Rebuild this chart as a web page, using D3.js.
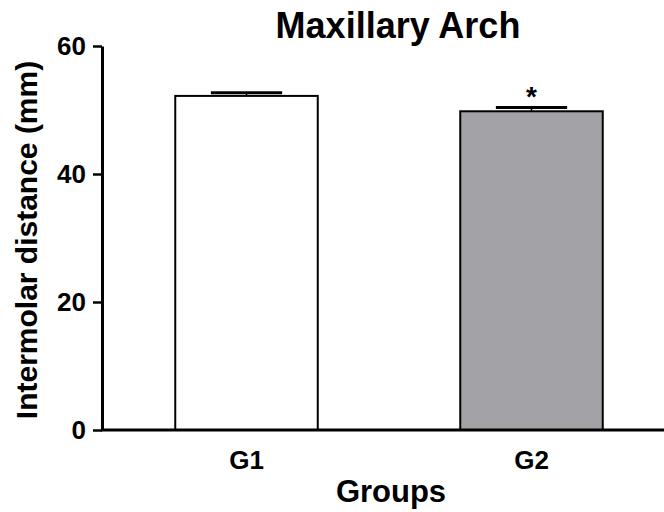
<!DOCTYPE html>
<html>
<head>
<meta charset="utf-8">
<script src="https://cdn.jsdelivr.net/npm/d3@7/dist/d3.min.js"></script>
<style>
  body { margin: 0; background: #fff; }
  text { font-family: "Liberation Sans", Arial, sans-serif; font-weight: bold; fill: #000; }
</style>
</head>
<body>
<div id="chart"></div>
<script>
var groups = ["G1", "G2"];
var means = [52.2, 49.8];
var errors = [0.5, 0.6];
var significant = [false, true];
var yTicks = [0, 20, 40, 60];
var barColors = ["#ffffff", "#a3a2a7"];

var width = 664, height = 512;

var svg = d3.select("#chart").append("svg")
    .attr("width", width)
    .attr("height", height);

var x = d3.scaleBand()
    .domain(groups)
    .range([104, 674])
    .paddingInner(0.5)
    .paddingOuter(0.25);

var y = d3.scaleLinear()
    .domain([0, 60])
    .range([430, 46]);

// title
svg.append("text")
    .attr("x", 398)
    .attr("y", 38)
    .attr("text-anchor", "middle")
    .style("font-size", "36px")
    .text("Maxillary Arch");

// bars
var data = groups.map(function(g, i) {
    return {group: g, mean: means[i], err: errors[i], sig: significant[i], color: barColors[i]};
});

var bar = svg.selectAll(".bar").data(data).enter().append("g")
    .attr("class", "bar");

bar.append("rect")
    .attr("x", function(d) { return x(d.group); })
    .attr("y", function(d) { return y(d.mean); })
    .attr("width", x.bandwidth())
    .attr("height", function(d) { return y(0) - y(d.mean); })
    .attr("fill", function(d) { return d.color; })
    .attr("stroke", "#000")
    .attr("stroke-width", 2);

// error bars (upper only)
bar.append("line")
    .attr("x1", function(d) { return x(d.group) + x.bandwidth() / 2; })
    .attr("x2", function(d) { return x(d.group) + x.bandwidth() / 2; })
    .attr("y1", function(d) { return y(d.mean); })
    .attr("y2", function(d) { return y(d.mean + d.err); })
    .attr("stroke", "#000")
    .attr("stroke-width", 1.5);

bar.append("line")
    .attr("x1", function(d) { return x(d.group) + x.bandwidth() * 0.25; })
    .attr("x2", function(d) { return x(d.group) + x.bandwidth() * 0.75; })
    .attr("y1", function(d) { return y(d.mean + d.err); })
    .attr("y2", function(d) { return y(d.mean + d.err); })
    .attr("stroke", "#000")
    .attr("stroke-width", 3);

bar.filter(function(d) { return d.sig; }).append("text")
    .attr("x", function(d) { return x(d.group) + x.bandwidth() / 2; })
    .attr("y", function(d) { return y(d.mean + d.err) - 1; })
    .attr("text-anchor", "middle")
    .style("font-size", "28px")
    .text("*");

// y axis
var yAxis = svg.append("g")
    .attr("transform", "translate(102,0)")
    .call(d3.axisLeft(y).tickValues(yTicks).tickSize(9).tickSizeOuter(0).tickPadding(7));
yAxis.select(".domain").attr("stroke-width", 3);
yAxis.selectAll(".tick line").attr("stroke-width", 2.5);
yAxis.selectAll("text")
    .attr("font-family", null)
    .attr("fill", null)
    .style("font-size", "26px");

// x axis
var xAxis = svg.append("g")
    .attr("transform", "translate(0,430)")
    .call(d3.axisBottom(x).tickSize(0).tickSizeOuter(0));
xAxis.select(".domain")
    .attr("d", "M101,0H664")
    .attr("stroke-width", 3);
xAxis.selectAll("text")
    .attr("font-family", null)
    .attr("fill", null)
    .attr("y", 39)
    .attr("dy", null)
    .style("font-size", "26px");

// axis titles
svg.append("text")
    .attr("x", 391)
    .attr("y", 502)
    .attr("text-anchor", "middle")
    .style("font-size", "31px")
    .text("Groups");

svg.append("text")
    .attr("transform", "translate(37,240) rotate(-90)")
    .attr("text-anchor", "middle")
    .style("font-size", "30px")
    .text("Intermolar distance (mm)");
</script>
</body>
</html>
